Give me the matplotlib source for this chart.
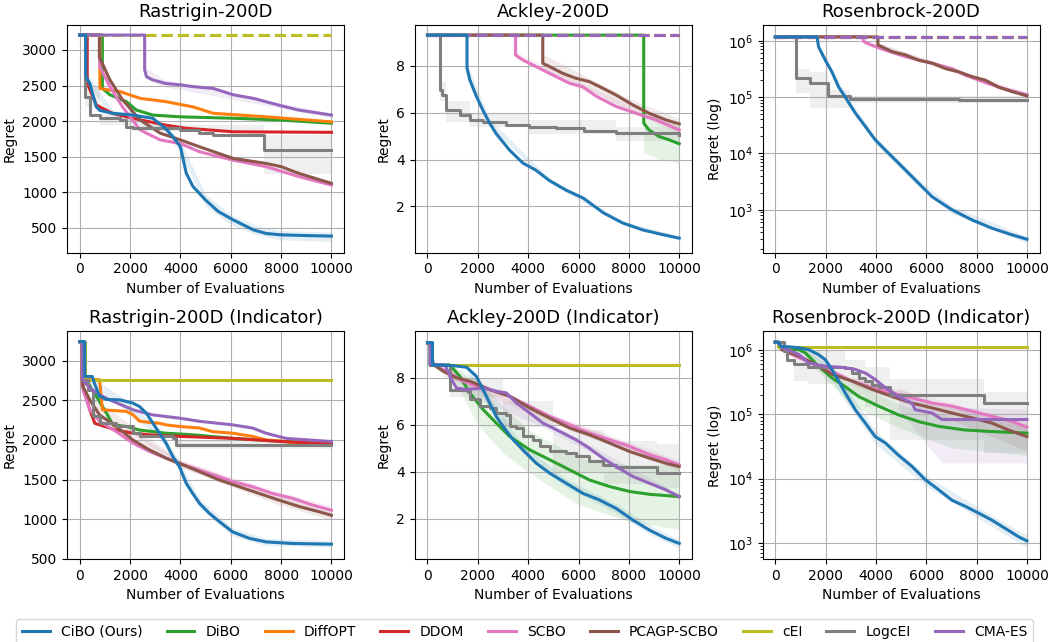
import matplotlib.pyplot as plt
import numpy as np
from matplotlib.lines import Line2D

methods = ["CiBO (Ours)", "DiBO", "DiffOPT", "DDOM", "SCBO", "PCAGP-SCBO", "cEI", "LogcEI", "CMA-ES"]
colors = ["tab:blue", "tab:green", "tab:orange", "tab:red", "tab:pink", "tab:brown", "tab:olive", "tab:gray", "tab:purple"]

# ---- Rastrigin-200D ----
rastrigin = {
    "CiBO (Ours)": [(0, 3210), (240, 3210), (240, 2630), (400, 2530), (660, 2200), (800, 2150), (1300, 2110), (2100, 2085),
                    (2900, 2040), (3400, 1900), (3700, 1780), (4000, 1640), (4230, 1270), (4500, 1080), (5000, 890),
                    (5500, 730), (6100, 610), (6900, 470), (7400, 420), (8000, 400), (9000, 390), (10000, 383)],
    "DiBO": [(0, 3210), (900, 3210), (900, 2460), (1200, 2370), (1850, 2275), (2250, 2155), (2900, 2085), (4000, 2060),
             (6100, 2040), (8000, 2015), (10000, 1970)],
    "DiffOPT": [(0, 3210), (800, 3210), (800, 2460), (1200, 2435), (1600, 2415), (2400, 2320), (3400, 2275), (4500, 2200),
                (5300, 2110), (7400, 2060), (10000, 1990)],
    "DDOM": [(0, 3210), (300, 3210), (300, 2530), (660, 2225), (1300, 2110), (2100, 2040), (3400, 1945), (4200, 1900),
             (6100, 1850), (10000, 1842)],
    "SCBO": [(0, 3210), (790, 3210), (790, 2770), (1200, 2485), (1700, 2200), (2400, 1875), (3200, 1735), (4000, 1685),
             (4750, 1570), (6100, 1450), (7400, 1360), (8700, 1220), (10000, 1100)],
    "PCAGP-SCBO": [(0, 3210), (780, 3210), (780, 2900), (1200, 2580), (1700, 2300), (2400, 2015), (3200, 1830), (4000, 1735),
                   (4750, 1640), (6100, 1475), (7400, 1405), (8000, 1360), (8700, 1265), (10000, 1125)],
    "cEI": [(0, 3210), (10000, 3210)],
    "LogcEI": [(0, 3210), (200, 3210), (200, 2340), (400, 2085), (800, 2040), (1600, 2015), (1850, 1920), (2100, 1900),
               (4000, 1875), (4750, 1830), (5300, 1805), (7330, 1805), (7330, 1600), (10000, 1600)],
    "CMA-ES": [(0, 3210), (2580, 3210), (2580, 2720), (2650, 2625), (2900, 2580), (3400, 2530), (4000, 2510), (4500, 2485),
               (5300, 2460), (6100, 2370), (6900, 2320), (7900, 2225), (8700, 2155), (10000, 2085)],
}
rastrigin_bands = {
    "CiBO (Ours)": [(240, 2550, 2700), (1300, 2060, 2160), (3400, 1850, 1950), (4000, 1560, 1720), (5000, 800, 970),
                    (6000, 550, 690), (7000, 400, 530), (8000, 330, 460), (10000, 310, 440)],
    "LogcEI": [(200, 2200, 2500), (800, 1950, 2100), (2000, 1860, 1950), (7330, 1250, 1810), (10000, 1250, 1810)],
    "CMA-ES": [(2600, 2600, 2760), (3400, 2480, 2580), (10000, 2050, 2110)],
}
rastrigin_dashed = ["cEI"]

# ---- Ackley-200D ----
ackley = {
    "CiBO (Ours)": [(0, 9.3), (1570, 9.3), (1570, 7.9), (1680, 7.4), (1940, 6.7), (2200, 6.1), (2470, 5.55), (2730, 5.1),
                    (3260, 4.4), (3790, 3.85), (4300, 3.55), (4850, 3.1), (5500, 2.7), (6200, 2.35), (7000, 1.72),
                    (7750, 1.3), (8550, 1.0), (9350, 0.8), (10000, 0.65)],
    "DiBO": [(0, 9.3), (8590, 9.3), (8590, 5.55), (8800, 5.26), (9200, 4.98), (9600, 4.84), (10000, 4.67)],
    "DiffOPT": [(0, 9.3), (10000, 9.3)],
    "DDOM": [(0, 9.3), (10000, 9.3)],
    "SCBO": [(0, 9.3), (3500, 9.3), (3500, 8.45), (3790, 8.24), (4320, 7.96), (4850, 7.67), (5640, 7.25), (6170, 7.1),
             (6700, 6.7), (7490, 6.26), (8280, 5.97), (9080, 5.69), (10000, 5.26)],
    "PCAGP-SCBO": [(0, 9.3), (4580, 9.3), (4580, 8.1), (4850, 7.96), (5380, 7.67), (5900, 7.46), (6430, 7.32), (6960, 7.04),
                   (7490, 6.75), (8150, 6.33), (8810, 5.97), (9470, 5.69), (10000, 5.52)],
    "cEI": [(0, 9.3), (10000, 9.3)],
    "LogcEI": [(0, 9.3), (490, 9.3), (490, 6.95), (560, 6.75), (750, 6.1), (1300, 5.9), (1700, 5.7), (2200, 5.62),
               (3100, 5.48), (4050, 5.4), (5100, 5.33), (6200, 5.2), (7500, 5.12), (10000, 5.05)],
    "CMA-ES": [(0, 9.3), (10000, 9.3)],
}
ackley_bands = {
    "CiBO (Ours)": [(1570, 7.7, 8.1), (2470, 5.4, 5.7), (4850, 3.0, 3.2), (7750, 1.22, 1.38), (10000, 0.58, 0.74)],
    "LogcEI": [(490, 6.5, 7.3), (750, 5.6, 6.5), (1700, 5.4, 6.0), (4000, 5.1, 5.7), (7500, 4.8, 5.4), (10000, 4.75, 5.3)],
    "DiBO": [(8590, 4.3, 6.0), (9200, 4.0, 5.8), (10000, 3.85, 5.6)],
    "PCAGP-SCBO": [(4580, 7.8, 8.5), (6000, 7.2, 7.7), (8000, 6.1, 6.6), (10000, 5.3, 5.75)],
    "SCBO": [(3500, 8.3, 8.6), (6000, 7.0, 7.3), (10000, 5.1, 5.4)],
}
ackley_dashed = ["DiffOPT", "DDOM", "cEI", "CMA-ES"]

# ---- Rosenbrock-200D ----
rosenbrock = {
    "CiBO (Ours)": [(0, 1.17e6), (1660, 1.17e6), (1720, 7.8e5), (1990, 4.5e5), (2250, 2.8e5), (2520, 1.5e5), (2780, 1.0e5),
                    (3180, 5.2e4), (3580, 3.0e4), (3970, 1.75e4), (4370, 1.15e4), (4900, 6.7e3), (5560, 3.4e3),
                    (6230, 1.7e3), (7020, 1.0e3), (7820, 660), (8610, 470), (9400, 360), (10000, 300)],
    "DiBO": [(0, 1.17e6), (10000, 1.17e6)],
    "DiffOPT": [(0, 1.17e6), (10000, 1.17e6)],
    "DDOM": [(0, 1.17e6), (10000, 1.17e6)],
    "SCBO": [(0, 1.17e6), (3470, 1.17e6), (3520, 9.6e5), (3840, 8.3e5), (4370, 6.8e5), (5170, 5.2e5), (6230, 4.0e5),
             (7020, 3.2e5), (7550, 2.45e5), (8210, 1.9e5), (8870, 1.5e5), (10000, 1.1e5)],
    "PCAGP-SCBO": [(0, 1.17e6), (4080, 1.17e6), (4080, 8.4e5), (4640, 6.4e5), (5170, 5.6e5), (5700, 4.5e5), (6230, 4.0e5),
                   (6760, 3.2e5), (7290, 2.8e5), (7820, 2.3e5), (8340, 2.0e5), (8870, 1.5e5), (9400, 1.25e5), (10000, 1.05e5)],
    "cEI": [(0, 1.17e6), (10000, 1.17e6)],
    "LogcEI": [(0, 1.17e6), (820, 1.17e6), (820, 2.15e5), (1390, 2.15e5), (1390, 1.75e5), (2090, 1.75e5), (2090, 1.05e5),
               (2980, 1.05e5), (2980, 9.3e4), (4770, 9.1e4), (7290, 8.9e4), (10000, 8.9e4)],
    "CMA-ES": [(0, 1.17e6), (10000, 1.17e6)],
}
rosenbrock_bands = {
    "CiBO (Ours)": [(1720, 7.0e5, 8.6e5), (2780, 8.5e4, 1.15e5), (3970, 1.5e4, 2.0e4), (5560, 2.9e3, 3.9e3),
                    (7020, 8.5e2, 1.15e3), (10000, 2.6e2, 3.4e2)],
    "LogcEI": [(820, 1.17e5, 3.2e5), (1390, 6.3e4, 2.8e5), (2090, 6.3e4, 1.35e5), (2980, 7.8e4, 1.05e5), (10000, 7.6e4, 1.02e5)],
    "SCBO": [(3520, 8.6e5, 1.07e6), (6230, 3.6e5, 4.4e5), (10000, 1.0e5, 1.2e5)],
    "PCAGP-SCBO": [(4080, 7.6e5, 9.3e5), (7290, 2.6e5, 3.0e5), (10000, 9.7e4, 1.13e5)],
}
rosenbrock_dashed = ["DiBO", "DiffOPT", "DDOM", "cEI", "CMA-ES"]

# ---- Rastrigin-200D (Indicator) ----
rastrigin_ind = {
    "CiBO (Ours)": [(0, 3240), (200, 3240), (200, 2800), (500, 2800), (600, 2700), (790, 2550), (1060, 2510), (1590, 2505),
                    (2110, 2465), (2380, 2420), (2640, 2340), (2910, 2210), (3170, 2085), (3430, 1960), (3700, 1790),
                    (3960, 1665), (4230, 1455), (4490, 1325), (4760, 1200), (5150, 1075), (5550, 970), (6080, 840),
                    (6740, 760), (7400, 715), (8450, 695), (10000, 686)],
    "DiBO": [(0, 3240), (100, 3240), (100, 2760), (330, 2720), (660, 2550), (1060, 2340), (1320, 2190), (1850, 2170),
             (2380, 2125), (3430, 2085), (4490, 2065), (6080, 2020), (8060, 1980), (10000, 1955)],
    "DiffOPT": [(0, 3240), (100, 3240), (100, 2760), (790, 2760), (900, 2380), (1850, 2360), (2110, 2320), (2380, 2235),
                (3170, 2210), (3430, 2190), (3960, 2170), (4760, 2150), (5280, 2105), (6080, 2085), (6870, 2045),
                (7400, 2000), (8190, 1980), (8450, 1960), (10000, 1955)],
    "DDOM": [(0, 3240), (100, 3240), (100, 2700), (400, 2380), (600, 2210), (790, 2190), (1450, 2125), (2110, 2085),
             (2770, 2065), (3960, 2045), (6080, 2020), (8060, 1980), (10000, 1950)],
    "SCBO": [(0, 3240), (100, 3240), (130, 2630), (400, 2380), (790, 2235), (1450, 2105), (2110, 1960), (2770, 1855),
             (3430, 1770), (3960, 1705), (4760, 1620), (5550, 1535), (6080, 1475), (6870, 1410), (7660, 1325),
             (8450, 1265), (9250, 1180), (10000, 1115)],
    "PCAGP-SCBO": [(0, 3240), (100, 3240), (130, 2675), (400, 2505), (790, 2315), (1450, 2170), (2110, 2000), (2770, 1875),
                   (3430, 1770), (3960, 1705), (4760, 1600), (5550, 1495), (6340, 1410), (7130, 1325), (7930, 1240),
                   (8720, 1160), (9510, 1095), (10000, 1050)],
    "cEI": [(0, 3240), (200, 3240), (200, 2760), (10000, 2760)],
    "LogcEI": [(0, 3240), (100, 3240), (100, 2760), (330, 2630), (530, 2300), (790, 2210), (1450, 2170), (2110, 2085),
               (2380, 2045), (3700, 2020), (3830, 1940), (10000, 1935)],
    "CMA-ES": [(0, 3240), (100, 3240), (100, 2760), (400, 2655), (790, 2570), (1190, 2505), (2110, 2380), (2910, 2315),
               (3960, 2275), (4760, 2235), (6080, 2190), (6870, 2150), (7400, 2085), (8190, 2020), (10000, 1980)],
}
rastrigin_ind_bands = {
    "CiBO (Ours)": [(200, 2760, 2840), (1590, 2440, 2560), (3170, 2030, 2140), (3960, 1600, 1730), (4760, 1140, 1260),
                    (6080, 790, 890), (7400, 670, 760), (10000, 650, 730)],
    "LogcEI": [(3830, 1880, 1990), (10000, 1880, 1990)],
    "SCBO": [(400, 2330, 2430), (3960, 1660, 1750), (7660, 1280, 1370), (10000, 1060, 1170)],
    "PCAGP-SCBO": [(400, 2450, 2560), (3960, 1660, 1750), (7930, 1180, 1300), (10000, 990, 1110)],
}
rastrigin_ind_dashed = []

# ---- Ackley-200D (Indicator) ----
ackley_ind = {
    "CiBO (Ours)": [(0, 9.5), (200, 9.5), (200, 8.55), (1000, 8.52), (1550, 8.45), (1940, 8.07), (2210, 7.5), (2470, 6.93),
                    (2730, 6.36), (3000, 5.94), (3400, 5.37), (3790, 4.94), (4320, 4.37), (4850, 3.95), (5510, 3.52),
                    (6170, 3.09), (6830, 2.81), (7490, 2.45), (8150, 1.96), (8810, 1.53), (9470, 1.18), (10000, 0.96)],
    "DiBO": [(0, 9.5), (100, 9.5), (100, 8.55), (885, 8.55), (1280, 8.07), (1680, 7.36), (2210, 6.65), (2730, 6.08),
             (3260, 5.51), (4060, 4.94), (4850, 4.52), (5640, 4.09), (6430, 3.66), (7230, 3.38), (8020, 3.17),
             (8810, 3.05), (10000, 2.95)],
    "SCBO": [(0, 9.5), (100, 9.5), (225, 8.57), (885, 8.21), (1410, 7.86), (1940, 7.64), (2470, 7.5), (3260, 7.22),
             (4060, 6.79), (4850, 6.36), (5640, 6.01), (6430, 5.65), (7230, 5.37), (8020, 5.09), (8810, 4.73),
             (9470, 4.52), (10000, 4.30)],
    "PCAGP-SCBO": [(0, 9.5), (100, 9.5), (225, 8.57), (620, 8.28), (1150, 8.0), (1680, 7.86), (2470, 7.5), (3260, 7.22),
                   (4060, 6.72), (4850, 6.29), (5640, 5.87), (6430, 5.58), (7230, 5.23), (8020, 4.87), (8810, 4.59),
                   (9470, 4.37), (10000, 4.23)],
    "cEI": [(0, 9.5), (100, 9.5), (100, 8.55), (10000, 8.55)],
    "LogcEI": [(0, 9.5), (100, 9.5), (100, 8.55), (750, 8.55), (890, 7.5), (1550, 7.43), (1680, 7.08), (2070, 6.79),
               (2470, 6.72), (2730, 6.51), (3130, 6.44), (3260, 5.94), (3530, 5.87), (3790, 5.51), (4190, 5.37),
               (4450, 5.09), (4850, 4.87), (5510, 4.80), (5900, 4.66), (6430, 4.45), (6960, 4.30), (7490, 4.23),
               (9100, 4.23), (9100, 3.95), (10000, 3.95)],
    "CMA-ES": [(0, 9.5), (100, 9.5), (100, 8.55), (700, 8.55), (890, 8.07), (1150, 7.57), (1550, 7.5), (2210, 7.57),
               (2730, 7.43), (3130, 7.36), (3530, 6.93), (4060, 6.51), (4580, 6.08), (5110, 5.80), (5900, 5.37),
               (6430, 5.01), (6960, 4.59), (7490, 4.23), (8150, 3.81), (8810, 3.52), (9470, 3.24), (10000, 2.95)],
}
ackley_ind_bands = {
    "CiBO (Ours)": [(1550, 8.3, 8.6), (2470, 6.7, 7.2), (3790, 4.75, 5.15), (5510, 3.35, 3.7), (7490, 2.25, 2.65),
                    (8810, 1.35, 1.75), (10000, 0.78, 1.12)],
    "DiBO": [(885, 8.3, 8.6), (2000, 6.0, 7.9), (3000, 4.8, 6.8), (4000, 4.0, 5.8), (6000, 2.6, 4.6), (8000, 1.9, 4.3),
             (10000, 1.55, 4.3)],
    "LogcEI": [(890, 7.2, 8.0), (3000, 5.9, 7.0), (5000, 4.0, 5.8), (7000, 3.5, 5.3), (9100, 3.3, 5.2), (10000, 3.2, 4.7)],
    "SCBO": [(885, 8.0, 8.4), (4850, 6.2, 6.5), (10000, 4.1, 4.5)],
    "PCAGP-SCBO": [(620, 8.1, 8.45), (4850, 6.1, 6.45), (10000, 4.05, 4.4)],
    "CMA-ES": [(1550, 7.3, 7.7), (4580, 5.9, 6.25), (10000, 2.85, 3.05)],
}
ackley_ind_dashed = []

# ---- Rosenbrock-200D (Indicator) ----
rosenbrock_ind = {
    "CiBO (Ours)": [(0, 1.33e6), (150, 1.33e6), (200, 1.15e6), (930, 1.09e6), (1320, 1.02e6), (1720, 8.5e5), (1990, 7.1e5),
                    (2250, 5.0e5), (2520, 3.3e5), (2780, 2.15e5), (3180, 1.18e5), (3580, 7.3e4), (3970, 4.5e4),
                    (4370, 3.6e4), (4900, 2.3e4), (5430, 1.55e4), (5960, 9.6e3), (6490, 6.7e3), (7020, 4.6e3),
                    (7550, 3.7e3), (8080, 2.9e3), (8610, 2.25e3), (9140, 1.67e3), (9670, 1.24e3), (10000, 1.07e3)],
    "DiBO": [(0, 1.33e6), (100, 1.33e6), (260, 1.02e6), (930, 1.02e6), (1190, 9.1e5), (1720, 5.6e5), (2250, 3.7e5),
             (2780, 2.7e5), (3310, 1.9e5), (4110, 1.34e5), (4900, 9.8e4), (5700, 7.7e4), (6490, 6.5e4), (7550, 5.7e4),
             (8610, 5.4e4), (10000, 5.1e4)],
    "SCBO": [(0, 1.33e6), (100, 1.33e6), (260, 1.02e6), (930, 7.6e5), (1590, 6.0e5), (2250, 4.7e5), (3050, 3.3e5),
             (3840, 2.6e5), (4640, 2.15e5), (5430, 1.8e5), (6230, 1.5e5), (7020, 1.34e5), (7820, 1.12e5), (8610, 9.3e4),
             (9400, 7.8e4), (10000, 6.3e4)],
    "PCAGP-SCBO": [(0, 1.33e6), (100, 1.33e6), (260, 1.02e6), (930, 8.1e5), (1590, 6.0e5), (2250, 4.2e5), (3050, 3.3e5),
                   (3840, 2.45e5), (4640, 1.9e5), (5430, 1.5e5), (6230, 1.26e5), (7020, 1.05e5), (7820, 8.8e4),
                   (8610, 7.3e4), (9270, 5.7e4), (10000, 4.5e4)],
    "cEI": [(0, 1.33e6), (100, 1.33e6), (100, 1.13e6), (10000, 1.13e6)],
    "LogcEI": [(0, 1.33e6), (330, 9.6e5), (460, 7.1e5), (730, 6.0e5), (1320, 5.5e5), (2780, 5.2e5), (3050, 4.4e5),
               (3310, 3.7e5), (3580, 3.3e5), (3840, 2.9e5), (4110, 2.65e5), (4570, 2.0e5), (8280, 1.5e5), (10000, 1.5e5)],
    "CMA-ES": [(0, 1.33e6), (100, 1.33e6), (260, 1.1e6), (930, 8.6e5), (1320, 6.3e5), (1990, 5.6e5), (2650, 5.4e5),
               (3180, 5.0e5), (3580, 4.4e5), (3970, 3.5e5), (4370, 2.6e5), (4900, 1.9e5), (5430, 1.5e5), (5560, 1.18e5),
               (6230, 1.05e5), (6620, 8.3e4), (10000, 8.3e4)],
}
rosenbrock_ind_bands = {
    "CiBO (Ours)": [(200, 1.0e6, 1.3e6), (1720, 7.0e5, 1.0e6), (2780, 1.6e5, 2.8e5), (3970, 3.5e4, 5.6e4),
                    (5960, 7.8e3, 1.15e4), (8080, 2.4e3, 3.5e3), (10000, 8.5e2, 1.3e3)],
    "DiBO": [(1190, 7.5e5, 1.0e6), (3000, 1.4e5, 3.2e5), (5000, 6e4, 1.4e5), (7000, 3e4, 9e4), (10000, 2.3e4, 7e4)],
    "LogcEI": [(0, 1.33e6, 1.33e6), (330, 8e5, 1.2e6), (730, 3.3e5, 1.1e6), (1320, 3.0e5, 1.0e6), (2780, 2.0e5, 7e5),
               (3580, 1.3e5, 5.5e5), (4570, 4.0e4, 3.6e5), (8280, 2.5e4, 2.2e5), (10000, 2.5e4, 2.2e5)],
    "CMA-ES": [(4900, 1.2e5, 2.6e5), (6620, 1.75e4, 1.3e5), (10000, 1.75e4, 1.2e5)],
    "PCAGP-SCBO": [(3050, 2.9e5, 3.8e5), (7020, 8e4, 1.3e5), (10000, 2.7e4, 7e4)],
    "SCBO": [(3050, 3.0e5, 3.7e5), (7020, 1.2e5, 1.5e5), (10000, 5.3e4, 7.5e4)],
}
rosenbrock_ind_dashed = []

panels = [
    ("Rastrigin-200D", rastrigin, rastrigin_bands, rastrigin_dashed, False, (149, 3351)),
    ("Ackley-200D", ackley, ackley_bands, ackley_dashed, False, (0.03, 9.73)),
    ("Rosenbrock-200D", rosenbrock, rosenbrock_bands, rosenbrock_dashed, True, (10 ** 2.238, 10 ** 6.278)),
    ("Rastrigin-200D (Indicator)", rastrigin_ind, rastrigin_ind_bands, rastrigin_ind_dashed, False, (497, 3367)),
    ("Ackley-200D (Indicator)", ackley_ind, ackley_ind_bands, ackley_ind_dashed, False, (0.29, 9.97)),
    ("Rosenbrock-200D (Indicator)", rosenbrock_ind, rosenbrock_ind_bands, rosenbrock_ind_dashed, True, (10 ** 2.745, 10 ** 6.29)),
]

fig, axes = plt.subplots(2, 3, figsize=(10.49, 6.42), dpi=100)
fig.subplots_adjust(left=0.064, right=0.991, top=0.961, bottom=0.129, wspace=0.256, hspace=0.346)

for ax, (title, data, bands, dashed, logy, ylim) in zip(axes.flat, panels):
    for name, color in zip(methods, colors):
        if name not in data:
            continue
        pts = np.array(data[name], dtype=float)
        step = name == "LogcEI"
        if name in bands:
            b = np.array(bands[name], dtype=float)
            ax.fill_between(b[:, 0], b[:, 1], b[:, 2], color=color, alpha=0.12, lw=0,
                            step="post" if step else None, zorder=1)
        ax.plot(pts[:, 0], pts[:, 1], color=color, lw=2.2,
                ls="--" if name in dashed else "-",
                drawstyle="steps-post" if step else "default",
                zorder=5 if name == "CiBO (Ours)" else 2)
    if logy:
        ax.set_yscale("log")
        ax.set_ylabel("Regret (log)", fontsize=10)
    else:
        ax.set_ylabel("Regret", fontsize=10)
    ax.set_xlim(-500, 10500)
    ax.set_ylim(*ylim)
    ax.set_xticks([0, 2000, 4000, 6000, 8000, 10000])
    ax.set_title(title, fontsize=13)
    ax.set_xlabel("Number of Evaluations", fontsize=10)
    ax.grid(True)

# shared legend along the bottom
handles = [Line2D([0], [0], color=c, lw=2.2) for c in colors]
fig.legend(handles, methods, loc="upper center", bbox_to_anchor=(0.5, 0.046), ncol=9, fontsize=10,
           columnspacing=1.75, frameon=True)

plt.savefig("out.png")
